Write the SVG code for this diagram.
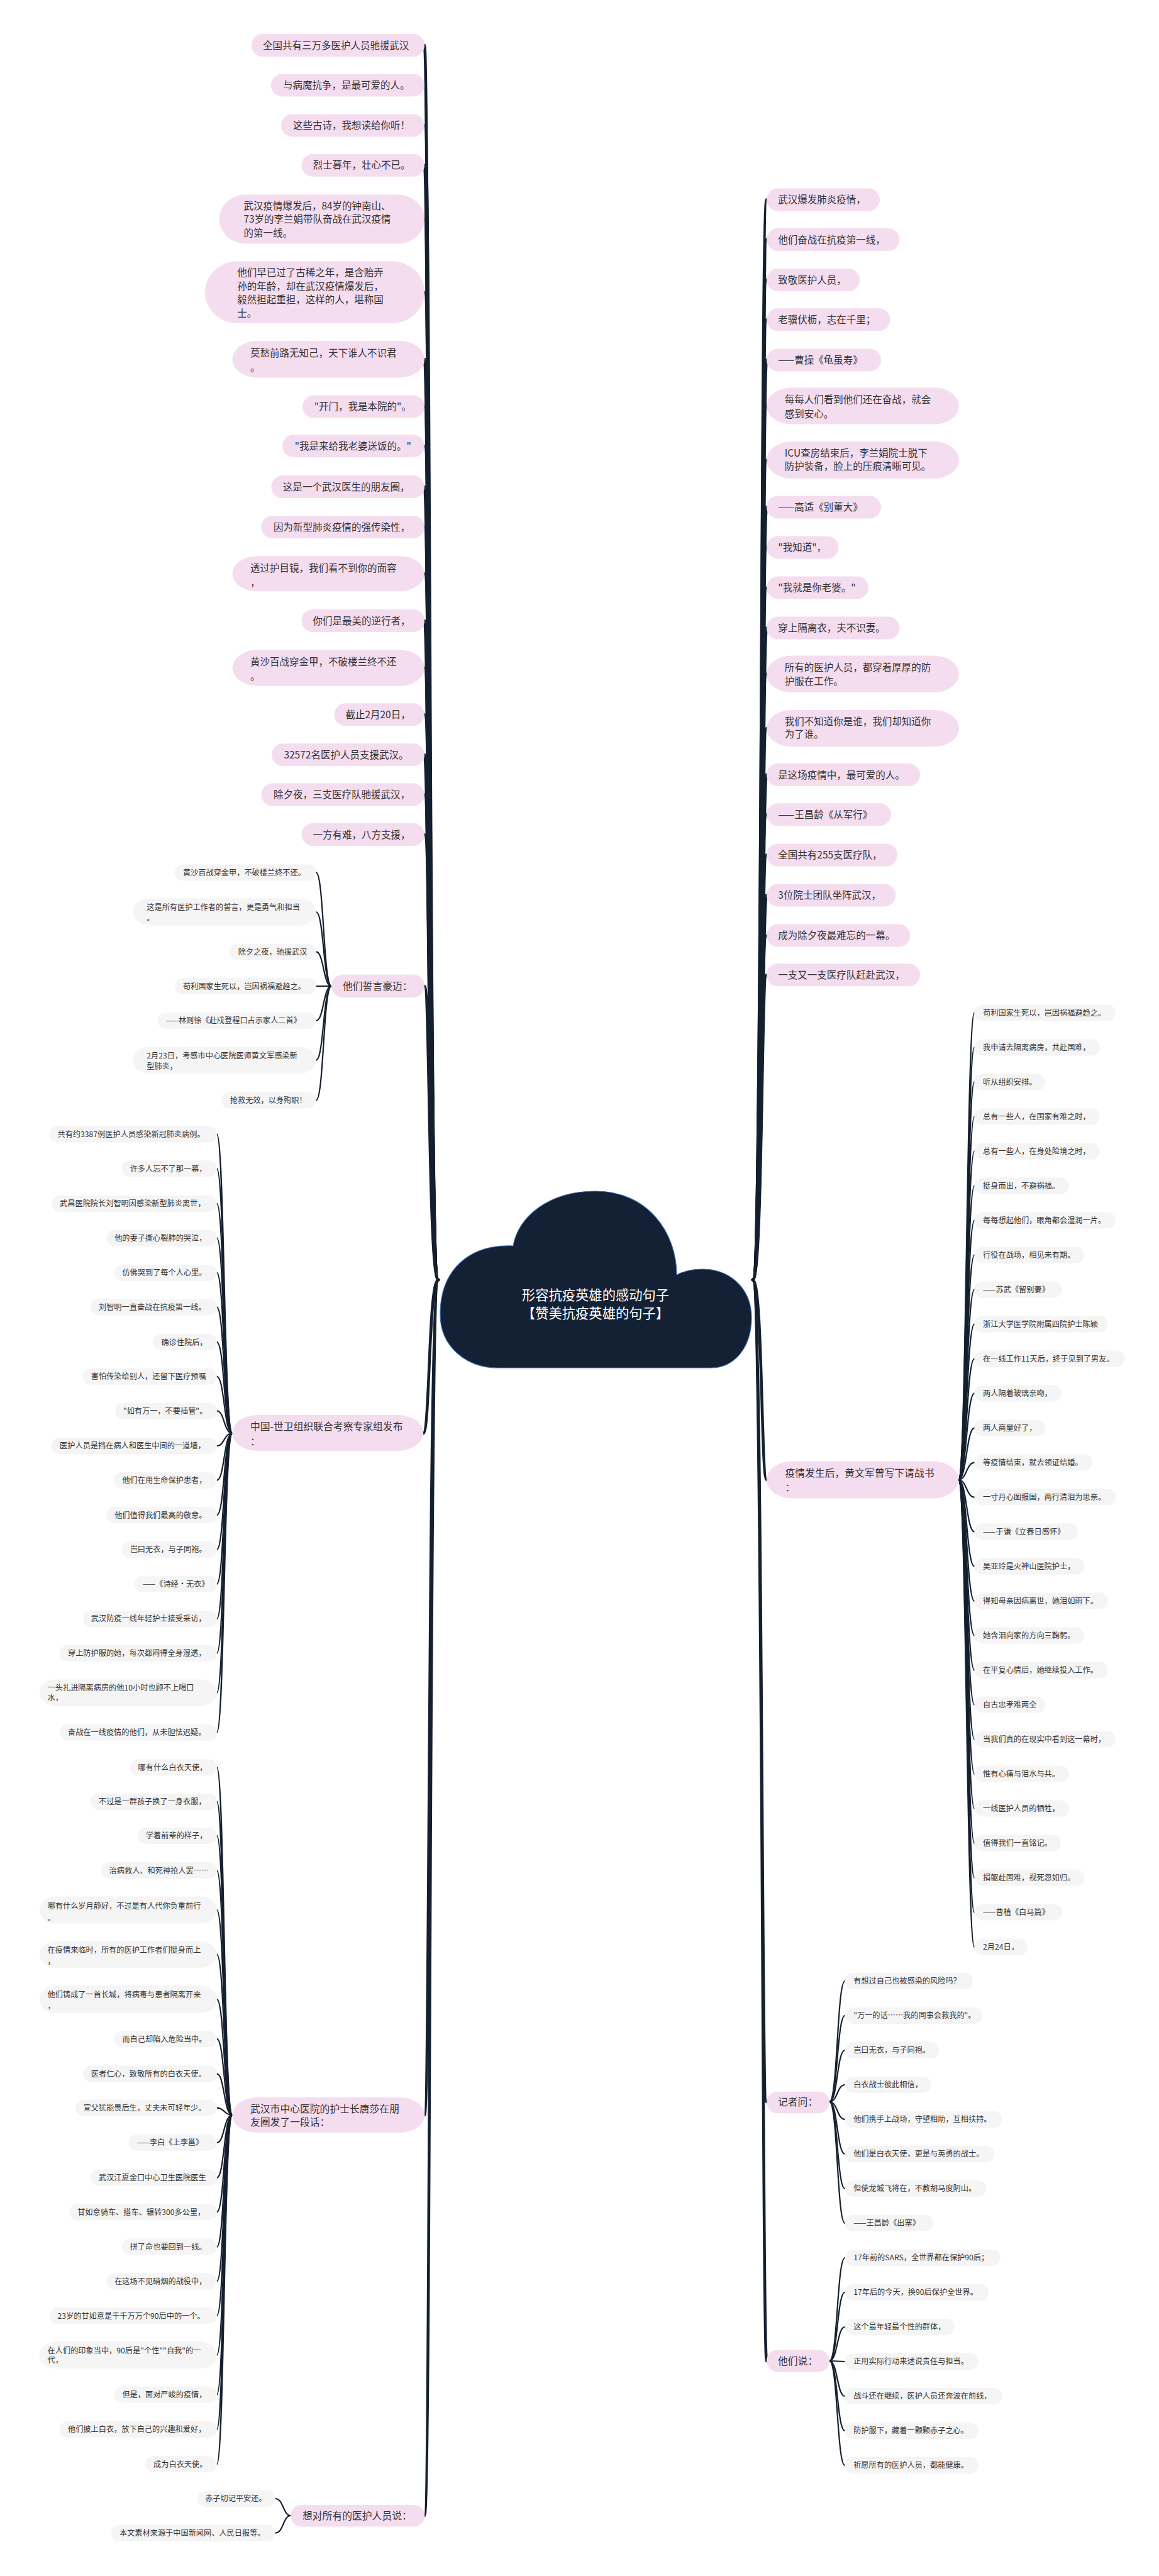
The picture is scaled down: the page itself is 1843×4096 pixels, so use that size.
<svg xmlns="http://www.w3.org/2000/svg" width="1843" height="4096" viewBox="0 0 1843 4096">
<style>
.pk{fill:#f5ddf0}
.gy{fill:#f5f5f5}
.t{font-family:"Noto Sans CJK SC","Noto Sans",sans-serif;fill:#333333}
.t1{font-size:15.5px}
.ts{font-size:15.8px}
.t2{font-size:12.2px}
.rt{font-family:"Noto Sans CJK SC","Noto Sans",sans-serif;font-size:21.3px;fill:#ffffff;text-anchor:middle}
.m{fill:none;stroke:#15202f;stroke-width:4.6;stroke-linecap:round}
.s{fill:none;stroke:#15202f;stroke-width:2.2;stroke-linecap:round}
</style>
<rect width="1843" height="4096" fill="#ffffff"/>
<g id="connectors">
<path class="m" d="M697 2035C681 2035 682 72 675 72"/>
<path class="m" d="M697 2035C681 2035 684 135.4 675 135.4"/>
<path class="m" d="M697 2035C681 2035 686 199.4 675 199.4"/>
<path class="m" d="M697 2035C681 2035 682 262.8 675 262.8"/>
<path class="m" d="M697 2035C681 2035 684 348.5 675 348.5"/>
<path class="m" d="M697 2035C681 2035 686 464.7 675 464.7"/>
<path class="m" d="M697 2035C681 2035 682 571.3 675 571.3"/>
<path class="m" d="M697 2035C681 2035 684 646.6 675 646.6"/>
<path class="m" d="M697 2035C681 2035 686 709.2 675 709.2"/>
<path class="m" d="M697 2035C681 2035 682 774 675 774"/>
<path class="m" d="M697 2035C681 2035 684 838 675 838"/>
<path class="m" d="M697 2035C681 2035 686 912.2 675 912.2"/>
<path class="m" d="M697 2035C681 2035 682 987.1 675 987.1"/>
<path class="m" d="M697 2035C681 2035 684 1062 675 1062"/>
<path class="m" d="M697 2035C681 2035 686 1136.2 675 1136.2"/>
<path class="m" d="M697 2035C681 2035 682 1200.2 675 1200.2"/>
<path class="m" d="M697 2035C681 2035 684 1263.6 675 1263.6"/>
<path class="m" d="M697 2035C681 2035 686 1327 675 1327"/>
<path class="m" d="M697 2035C681 2035 684 1568 675 1568"/>
<path class="m" d="M697 2035C681 2035 684 2279 673 2279"/>
<path class="m" d="M697 2035C681 2035 684 3363 675 3363"/>
<path class="m" d="M697 2035C681 2035 686 4000 675 4000"/>
<path class="m" d="M1197 2035C1213 2035 1209 317.5 1219 317.5"/>
<path class="m" d="M1197 2035C1213 2035 1211 380.9 1219 380.9"/>
<path class="m" d="M1197 2035C1213 2035 1208 445 1219 445"/>
<path class="m" d="M1197 2035C1213 2035 1210 508.3 1219 508.3"/>
<path class="m" d="M1197 2035C1213 2035 1212 572.4 1219 572.4"/>
<path class="m" d="M1197 2035C1213 2035 1208 645.5 1219 645.5"/>
<path class="m" d="M1197 2035C1213 2035 1210 731.5 1219 731.5"/>
<path class="m" d="M1197 2035C1213 2035 1212 806.4 1219 806.4"/>
<path class="m" d="M1197 2035C1213 2035 1208 870.5 1219 870.5"/>
<path class="m" d="M1197 2035C1213 2035 1210 934.6 1219 934.6"/>
<path class="m" d="M1197 2035C1213 2035 1212 998.6 1219 998.6"/>
<path class="m" d="M1197 2035C1213 2035 1208 1071.8 1219 1071.8"/>
<path class="m" d="M1197 2035C1213 2035 1210 1158.2 1219 1158.2"/>
<path class="m" d="M1197 2035C1213 2035 1212 1231.9 1219 1231.9"/>
<path class="m" d="M1197 2035C1213 2035 1208 1295.3 1219 1295.3"/>
<path class="m" d="M1197 2035C1213 2035 1210 1359.4 1219 1359.4"/>
<path class="m" d="M1197 2035C1213 2035 1212 1423.4 1219 1423.4"/>
<path class="m" d="M1197 2035C1213 2035 1208 1487.5 1219 1487.5"/>
<path class="m" d="M1197 2035C1213 2035 1210 1550.2 1219 1550.2"/>
<path class="m" d="M1197 2035C1213 2035 1210 2353 1219 2353"/>
<path class="m" d="M1197 2035C1213 2035 1210 3342 1219 3342"/>
<path class="m" d="M1197 2035C1213 2035 1212 3754 1219 3754"/>
<path class="s" d="M527 1568C514 1568 515 1387.4 502.6 1387.4"/>
<path class="s" d="M527 1568C514 1568 515 1450 502.6 1450"/>
<path class="s" d="M527 1568C514 1568 515 1513.4 502.6 1513.4"/>
<path class="s" d="M527 1568C514 1568 515 1568.2 502.6 1568.2"/>
<path class="s" d="M527 1568C514 1568 515 1622.9 502.6 1622.9"/>
<path class="s" d="M527 1568C514 1568 515 1685.8 502.6 1685.8"/>
<path class="s" d="M527 1568C514 1568 515 1749.6 502.6 1749.6"/>
<path class="s" d="M369.4 2279C356 2279 357 1803.6 344.9 1803.6"/>
<path class="s" d="M369.4 2279C356 2279 357 1858.3 344.9 1858.3"/>
<path class="s" d="M369.4 2279C356 2279 357 1913.8 344.9 1913.8"/>
<path class="s" d="M369.4 2279C356 2279 357 1968.5 344.9 1968.5"/>
<path class="s" d="M369.4 2279C356 2279 357 2023.9 344.9 2023.9"/>
<path class="s" d="M369.4 2279C356 2279 357 2078.6 344.9 2078.6"/>
<path class="s" d="M369.4 2279C356 2279 357 2134.1 344.9 2134.1"/>
<path class="s" d="M369.4 2279C356 2279 357 2188.8 344.9 2188.8"/>
<path class="s" d="M369.4 2279C356 2279 357 2243.5 344.9 2243.5"/>
<path class="s" d="M369.4 2279C356 2279 357 2299 344.9 2299"/>
<path class="s" d="M369.4 2279C356 2279 357 2353.7 344.9 2353.7"/>
<path class="s" d="M369.4 2279C356 2279 357 2409.1 344.9 2409.1"/>
<path class="s" d="M369.4 2279C356 2279 357 2463.8 344.9 2463.8"/>
<path class="s" d="M369.4 2279C356 2279 357 2518.6 344.9 2518.6"/>
<path class="s" d="M369.4 2279C356 2279 357 2574 344.9 2574"/>
<path class="s" d="M369.4 2279C356 2279 357 2628.7 344.9 2628.7"/>
<path class="s" d="M369.4 2279C356 2279 357 2691.4 344.9 2691.4"/>
<path class="s" d="M369.4 2279C356 2279 357 2754.7 344.9 2754.7"/>
<path class="s" d="M369.4 3363C356 3363 357 2810.2 344.9 2810.2"/>
<path class="s" d="M369.4 3363C356 3363 357 2864.9 344.9 2864.9"/>
<path class="s" d="M369.4 3363C356 3363 357 2918.9 344.9 2918.9"/>
<path class="s" d="M369.4 3363C356 3363 357 2974.3 344.9 2974.3"/>
<path class="s" d="M369.4 3363C356 3363 357 3037 344.9 3037"/>
<path class="s" d="M369.4 3363C356 3363 357 3107.8 344.9 3107.8"/>
<path class="s" d="M369.4 3363C356 3363 357 3179.2 344.9 3179.2"/>
<path class="s" d="M369.4 3363C356 3363 357 3242.2 344.9 3242.2"/>
<path class="s" d="M369.4 3363C356 3363 357 3297.6 344.9 3297.6"/>
<path class="s" d="M369.4 3363C356 3363 357 3351.6 344.9 3351.6"/>
<path class="s" d="M369.4 3363C356 3363 357 3407 344.9 3407"/>
<path class="s" d="M369.4 3363C356 3363 357 3462.5 344.9 3462.5"/>
<path class="s" d="M369.4 3363C356 3363 357 3517.2 344.9 3517.2"/>
<path class="s" d="M369.4 3363C356 3363 357 3572.6 344.9 3572.6"/>
<path class="s" d="M369.4 3363C356 3363 357 3627.4 344.9 3627.4"/>
<path class="s" d="M369.4 3363C356 3363 357 3682.1 344.9 3682.1"/>
<path class="s" d="M369.4 3363C356 3363 357 3744.7 344.9 3744.7"/>
<path class="s" d="M369.4 3363C356 3363 357 3807.4 344.9 3807.4"/>
<path class="s" d="M369.4 3363C356 3363 357 3862.8 344.9 3862.8"/>
<path class="s" d="M369.4 3363C356 3363 357 3918.2 344.9 3918.2"/>
<path class="s" d="M462.2 4000C450 4000 451 3973 437.8 3973"/>
<path class="s" d="M462.2 4000C450 4000 451 4027.7 437.8 4027.7"/>
<path class="s" d="M1524.2 2353C1537 2353 1537 1610.6 1549.4 1610.6"/>
<path class="s" d="M1524.2 2353C1537 2353 1537 1665.6 1549.4 1665.6"/>
<path class="s" d="M1524.2 2353C1537 2353 1537 1720.6 1549.4 1720.6"/>
<path class="s" d="M1524.2 2353C1537 2353 1537 1775.6 1549.4 1775.6"/>
<path class="s" d="M1524.2 2353C1537 2353 1537 1830.6 1549.4 1830.6"/>
<path class="s" d="M1524.2 2353C1537 2353 1537 1885.6 1549.4 1885.6"/>
<path class="s" d="M1524.2 2353C1537 2353 1537 1940.6 1549.4 1940.6"/>
<path class="s" d="M1524.2 2353C1537 2353 1537 1995.6 1549.4 1995.6"/>
<path class="s" d="M1524.2 2353C1537 2353 1537 2050.6 1549.4 2050.6"/>
<path class="s" d="M1524.2 2353C1537 2353 1537 2105.6 1549.4 2105.6"/>
<path class="s" d="M1524.2 2353C1537 2353 1537 2160.6 1549.4 2160.6"/>
<path class="s" d="M1524.2 2353C1537 2353 1537 2215.6 1549.4 2215.6"/>
<path class="s" d="M1524.2 2353C1537 2353 1537 2270.6 1549.4 2270.6"/>
<path class="s" d="M1524.2 2353C1537 2353 1537 2325.6 1549.4 2325.6"/>
<path class="s" d="M1524.2 2353C1537 2353 1537 2380.6 1549.4 2380.6"/>
<path class="s" d="M1524.2 2353C1537 2353 1537 2435.6 1549.4 2435.6"/>
<path class="s" d="M1524.2 2353C1537 2353 1537 2490.6 1549.4 2490.6"/>
<path class="s" d="M1524.2 2353C1537 2353 1537 2545.6 1549.4 2545.6"/>
<path class="s" d="M1524.2 2353C1537 2353 1537 2600.6 1549.4 2600.6"/>
<path class="s" d="M1524.2 2353C1537 2353 1537 2655.6 1549.4 2655.6"/>
<path class="s" d="M1524.2 2353C1537 2353 1537 2710.6 1549.4 2710.6"/>
<path class="s" d="M1524.2 2353C1537 2353 1537 2765.6 1549.4 2765.6"/>
<path class="s" d="M1524.2 2353C1537 2353 1537 2820.6 1549.4 2820.6"/>
<path class="s" d="M1524.2 2353C1537 2353 1537 2875.6 1549.4 2875.6"/>
<path class="s" d="M1524.2 2353C1537 2353 1537 2930.6 1549.4 2930.6"/>
<path class="s" d="M1524.2 2353C1537 2353 1537 2985.6 1549.4 2985.6"/>
<path class="s" d="M1524.2 2353C1537 2353 1537 3040.6 1549.4 3040.6"/>
<path class="s" d="M1524.2 2353C1537 2353 1537 3095.6 1549.4 3095.6"/>
<path class="s" d="M1319 3342C1332 3342 1331 3150 1343.5 3150"/>
<path class="s" d="M1319 3342C1332 3342 1331 3205 1343.5 3205"/>
<path class="s" d="M1319 3342C1332 3342 1331 3260 1343.5 3260"/>
<path class="s" d="M1319 3342C1332 3342 1331 3315 1343.5 3315"/>
<path class="s" d="M1319 3342C1332 3342 1331 3370 1343.5 3370"/>
<path class="s" d="M1319 3342C1332 3342 1331 3425 1343.5 3425"/>
<path class="s" d="M1319 3342C1332 3342 1331 3480 1343.5 3480"/>
<path class="s" d="M1319 3342C1332 3342 1331 3535 1343.5 3535"/>
<path class="s" d="M1319 3754C1332 3754 1331 3590 1343.5 3590"/>
<path class="s" d="M1319 3754C1332 3754 1331 3645 1343.5 3645"/>
<path class="s" d="M1319 3754C1332 3754 1331 3700 1343.5 3700"/>
<path class="s" d="M1319 3754C1332 3754 1331 3755 1343.5 3755"/>
<path class="s" d="M1319 3754C1332 3754 1331 3810 1343.5 3810"/>
<path class="s" d="M1319 3754C1332 3754 1331 3865 1343.5 3865"/>
<path class="s" d="M1319 3754C1332 3754 1331 3920 1343.5 3920"/>
</g>
<g id="root">
<path d="M792 2175C740 2175 700 2140 700 2090C700 2020 745 1978 816 1981C824 1935 872 1894 947 1894C1030 1894 1076 1960 1076 2027C1090 2020 1103 2018 1117 2018C1162 2018 1195 2050 1195 2095C1195 2140 1170 2175 1130 2175Z" fill="#142033" stroke="#3b6db3" stroke-width="1.2"/>
<text class="rt" x="947" y="2066.9">形容抗疫英雄的感动句子</text>
<text class="rt" x="947" y="2095.7">【赞美抗疫英雄的句子】</text>
</g>
<g id="L1"><rect class="pk" x="399.6" y="54" width="275.4" height="36" rx="18"/><text class="t t1" x="418" y="77.6">全国共有三万多医护人员驰援武汉</text></g>
<g id="L2"><rect class="pk" x="431" y="117.4" width="244" height="36" rx="18"/><text class="t t1" x="450" y="141">与病魔抗争，是最可爱的人。</text></g>
<g id="L3"><rect class="pk" x="447" y="181.4" width="228" height="36" rx="18"/><text class="t t1" x="466" y="205">这些古诗，我想读给你听！</text></g>
<g id="L4"><rect class="pk" x="479.5" y="244.8" width="195.5" height="36" rx="18"/><text class="t t1" x="497.5" y="268.4">烈士暮年，壮心不已。</text></g>
<g id="L5"><rect class="pk" x="348.5" y="309.6" width="326.5" height="77.8" rx="42" ry="38.9"/><text class="t t1" x="387.4" y="332.5">武汉疫情爆发后，84岁的钟南山、</text><text class="t t1" x="387.4" y="354.1">73岁的李兰娟带队奋战在武汉疫情</text><text class="t t1" x="387.4" y="375.7">的第一线。</text></g>
<g id="L6"><rect class="pk" x="326" y="415.4" width="349" height="98.6" rx="52" ry="49.3"/><text class="t t1" x="377.3" y="439">他们早已过了古稀之年，是含贻弄</text><text class="t t1" x="377.3" y="460.6">孙的年龄，却在武汉疫情爆发后，</text><text class="t t1" x="377.3" y="482.2">毅然担起重担，这样的人，堪称国</text><text class="t t1" x="377.3" y="503.8">士。</text></g>
<g id="L7"><rect class="pk" x="369.4" y="542" width="305.6" height="58.5" rx="40" ry="29.25"/><text class="t t1" x="398" y="567.2">莫愁前路无知己，天下谁人不识君</text><text class="t t1" x="398" y="590">。</text></g>
<g id="L8"><rect class="pk" x="481" y="628.6" width="194" height="36" rx="18"/><text class="t t1" x="499.7" y="652.2">"开门，我是本院的"。</text></g>
<g id="L9"><rect class="pk" x="449" y="691.2" width="226" height="36" rx="18"/><text class="t t1" x="468.7" y="714.8">"我是来给我老婆送饭的。"</text></g>
<g id="L10"><rect class="pk" x="431.3" y="756" width="243.7" height="36" rx="18"/><text class="t t1" x="450" y="779.6">这是一个武汉医生的朋友圈，</text></g>
<g id="L11"><rect class="pk" x="415.4" y="820" width="259.6" height="36" rx="18"/><text class="t t1" x="434.9" y="843.6">因为新型肺炎疫情的强传染性，</text></g>
<g id="L12"><rect class="pk" x="369.4" y="884.2" width="305.6" height="56.1" rx="40" ry="28"/><text class="t t1" x="398" y="908.5">透过护目镜，我们看不到你的面容</text><text class="t t1" x="398" y="932.2">，</text></g>
<g id="L13"><rect class="pk" x="479.5" y="969.1" width="195.5" height="36" rx="18"/><text class="t t1" x="497.5" y="992.7">你们是最美的逆行者，</text></g>
<g id="L14"><rect class="pk" x="369.4" y="1033.2" width="305.6" height="57.6" rx="40" ry="28.8"/><text class="t t1" x="398" y="1057.5">黄沙百战穿金甲，不破楼兰终不还</text><text class="t t1" x="398" y="1081.3">。</text></g>
<g id="L15"><rect class="pk" x="531.4" y="1118.2" width="143.6" height="36" rx="18"/><text class="t t1" x="549.4" y="1141.8">截止2月20日，</text></g>
<g id="L16"><rect class="pk" x="432" y="1182.2" width="243" height="36" rx="18"/><text class="t t1" x="451.4" y="1205.8">32572名医护人员支援武汉。</text></g>
<g id="L17"><rect class="pk" x="415.4" y="1245.6" width="259.6" height="36" rx="18"/><text class="t t1" x="434.9" y="1269.2">除夕夜，三支医疗队驰援武汉，</text></g>
<g id="L18"><rect class="pk" x="479.5" y="1309" width="195.5" height="36" rx="18"/><text class="t t1" x="497.5" y="1332.6">一方有难，八方支援，</text></g>
<g id="S1"><rect class="pk" x="527" y="1549.4" width="148" height="36.8" rx="18.4"/><text class="t ts" x="545" y="1573.7">他们誓言豪迈：</text></g>
<g id="S1c1"><rect class="gy" x="278" y="1374.4" width="224.6" height="26" rx="13"/><text class="t t2" x="290.9" y="1391.8">黄沙百战穿金甲，不破楼兰终不还。</text></g>
<g id="S1c2"><rect class="gy" x="211.7" y="1428.5" width="290.9" height="43.2" rx="26" ry="21.6"/><text class="t t2" x="233.3" y="1447.3">这是所有医护工作者的誓言，更是勇气和担当</text><text class="t t2" x="233.3" y="1463.8">。</text></g>
<g id="S1c3"><rect class="gy" x="364.3" y="1500.4" width="138.3" height="26" rx="13"/><text class="t t2" x="378.7" y="1517.8">除夕之夜，驰援武汉</text></g>
<g id="S1c4"><rect class="gy" x="278" y="1555.2" width="224.6" height="26" rx="13"/><text class="t t2" x="290.9" y="1572.6">苟利国家生死以，岂因祸福避趋之。</text></g>
<g id="S1c5"><rect class="gy" x="250.6" y="1609.9" width="252" height="26" rx="13"/><text class="t t2" x="263.5" y="1627.3">——林则徐《赴戍登程口占示家人二首》</text></g>
<g id="S1c6"><rect class="gy" x="211.7" y="1664.6" width="290.9" height="42.5" rx="26" ry="21.2"/><text class="t t2" x="233.3" y="1683.4">2月23日，考感市中心医院医师黄文军感染新</text><text class="t t2" x="233.3" y="1700">型肺炎，</text></g>
<g id="S1c7"><rect class="gy" x="352" y="1736.6" width="150.6" height="26" rx="13"/><text class="t t2" x="365.8" y="1754">抢救无效，以身殉职！</text></g>
<g id="S2"><rect class="pk" x="369.4" y="2250" width="303.8" height="56.9" rx="40" ry="28.4"/><text class="t ts" x="398" y="2274.4">中国-世卫组织联合考察专家组发布</text><text class="t ts" x="398" y="2298.2">：</text></g>
<g id="S2c1"><rect class="gy" x="78.5" y="1790.6" width="266.4" height="26" rx="13"/><text class="t t2" x="91.5" y="1808">共有约3387例医护人员感染新冠肺炎病例。</text></g>
<g id="S2c2"><rect class="gy" x="193.7" y="1845.3" width="151.2" height="26" rx="13"/><text class="t t2" x="206.7" y="1862.7">许多人忘不了那一幕，</text></g>
<g id="S2c3"><rect class="gy" x="82.1" y="1900.8" width="262.8" height="26" rx="13"/><text class="t t2" x="95.1" y="1918.2">武昌医院院长刘智明因感染新型肺炎离世，</text></g>
<g id="S2c4"><rect class="gy" x="169.2" y="1955.5" width="175.7" height="26" rx="13"/><text class="t t2" x="182.2" y="1972.9">他的妻子撕心裂肺的哭泣，</text></g>
<g id="S2c5"><rect class="gy" x="181.4" y="2010.9" width="163.5" height="26" rx="13"/><text class="t t2" x="194.4" y="2028.3">仿佛哭到了每个人心里。</text></g>
<g id="S2c6"><rect class="gy" x="144" y="2065.6" width="200.9" height="26" rx="13"/><text class="t t2" x="157" y="2083">刘智明一直奋战在抗疫第一线。</text></g>
<g id="S2c7"><rect class="gy" x="243.4" y="2121.1" width="101.5" height="26" rx="13"/><text class="t t2" x="256.4" y="2138.5">确诊住院后，</text></g>
<g id="S2c8"><rect class="gy" x="131.8" y="2175.8" width="213.1" height="26" rx="13"/><text class="t t2" x="144.8" y="2193.2">害怕传染给别人，还留下医疗预嘱</text></g>
<g id="S2c9"><rect class="gy" x="182.9" y="2230.5" width="162" height="26" rx="13"/><text class="t t2" x="195.9" y="2247.9">"如有万一，不要插管"。</text></g>
<g id="S2c10"><rect class="gy" x="82.1" y="2286" width="262.8" height="26" rx="13"/><text class="t t2" x="95.1" y="2303.4">医护人员是挡在病人和医生中间的一道墙，</text></g>
<g id="S2c11"><rect class="gy" x="181.4" y="2340.7" width="163.5" height="26" rx="13"/><text class="t t2" x="194.4" y="2358.1">他们在用生命保护患者，</text></g>
<g id="S2c12"><rect class="gy" x="169.2" y="2396.1" width="175.7" height="26" rx="13"/><text class="t t2" x="182.2" y="2413.5">他们值得我们最高的敬意。</text></g>
<g id="S2c13"><rect class="gy" x="193.7" y="2450.8" width="151.2" height="26" rx="13"/><text class="t t2" x="206.7" y="2468.2">岂曰无衣，与子同袍。</text></g>
<g id="S2c14"><rect class="gy" x="213.8" y="2505.6" width="131.1" height="26" rx="13"/><text class="t t2" x="226.8" y="2523">——《诗经·无衣》</text></g>
<g id="S2c15"><rect class="gy" x="131.8" y="2561" width="213.1" height="26" rx="13"/><text class="t t2" x="144.8" y="2578.4">武汉防疫一线年轻护士接受采访，</text></g>
<g id="S2c16"><rect class="gy" x="95" y="2615.7" width="249.9" height="26" rx="13"/><text class="t t2" x="108" y="2633.1">穿上防护服的她，每次都闷得全身湿透，</text></g>
<g id="S2c17"><rect class="gy" x="62.6" y="2670.5" width="282.3" height="41.7" rx="26" ry="20.85"/><text class="t t2" x="75.6" y="2687.8">一头扎进隔离病房的他10小时也顾不上喝口</text><text class="t t2" x="75.6" y="2704.4">水，</text></g>
<g id="S2c18"><rect class="gy" x="95" y="2741.7" width="249.9" height="26" rx="13"/><text class="t t2" x="108" y="2759.1">奋战在一线疫情的他们，从未胆怯迟疑。</text></g>
<g id="S3"><rect class="pk" x="369.4" y="3335" width="306" height="56.2" rx="40" ry="28.1"/><text class="t ts" x="398" y="3358.7">武汉市中心医院的护士长唐莎在朋</text><text class="t ts" x="398" y="3380.3">友圈发了一段话：</text></g>
<g id="S3c1"><rect class="gy" x="206.6" y="2797.2" width="138.3" height="26" rx="13"/><text class="t t2" x="219.6" y="2814.6">哪有什么白衣天使，</text></g>
<g id="S3c2"><rect class="gy" x="144" y="2851.9" width="200.9" height="26" rx="13"/><text class="t t2" x="157" y="2869.3">不过是一群孩子换了一身衣服，</text></g>
<g id="S3c3"><rect class="gy" x="218.9" y="2905.9" width="126" height="26" rx="13"/><text class="t t2" x="231.9" y="2923.3">学着前辈的样子，</text></g>
<g id="S3c4"><rect class="gy" x="160.6" y="2961.3" width="184.3" height="26" rx="13"/><text class="t t2" x="173.6" y="2978.7">治病救人、和死神抢人罢……</text></g>
<g id="S3c5"><rect class="gy" x="62.6" y="3015.4" width="282.3" height="43.2" rx="26" ry="21.6"/><text class="t t2" x="75.6" y="3034.9">哪有什么岁月静好，不过是有人代你负重前行</text><text class="t t2" x="75.6" y="3053.6">。</text></g>
<g id="S3c6"><rect class="gy" x="62.6" y="3086.6" width="282.3" height="42.5" rx="26" ry="21.2"/><text class="t t2" x="75.6" y="3105.4">在疫情来临时，所有的医护工作者们挺身而上</text><text class="t t2" x="75.6" y="3123.4">，</text></g>
<g id="S3c7"><rect class="gy" x="62.6" y="3157.2" width="282.3" height="43.9" rx="26" ry="21.9"/><text class="t t2" x="75.6" y="3176">他们铸成了一首长城，将病毒与患者隔离开来</text><text class="t t2" x="75.6" y="3194">，</text></g>
<g id="S3c8"><rect class="gy" x="181.4" y="3229.2" width="163.5" height="26" rx="13"/><text class="t t2" x="194.4" y="3246.6">而自己却陷入危险当中。</text></g>
<g id="S3c9"><rect class="gy" x="131.8" y="3284.6" width="213.1" height="26" rx="13"/><text class="t t2" x="144.8" y="3302">医者仁心，致敬所有的白衣天使。</text></g>
<g id="S3c10"><rect class="gy" x="119.5" y="3338.6" width="225.4" height="26" rx="13"/><text class="t t2" x="132.5" y="3356">宣父犹能畏后生，丈夫未可轻年少。</text></g>
<g id="S3c11"><rect class="gy" x="204.5" y="3394" width="140.4" height="26" rx="13"/><text class="t t2" x="217.5" y="3411.4">——李白《上李邕》</text></g>
<g id="S3c12"><rect class="gy" x="144" y="3449.5" width="200.9" height="26" rx="13"/><text class="t t2" x="157" y="3466.9">武汉江夏金口中心卫生医院医生</text></g>
<g id="S3c13"><rect class="gy" x="110.2" y="3504.2" width="234.7" height="26" rx="13"/><text class="t t2" x="123.2" y="3521.6">甘如意骑车、搭车、辗转300多公里，</text></g>
<g id="S3c14"><rect class="gy" x="193.7" y="3559.6" width="151.2" height="26" rx="13"/><text class="t t2" x="206.7" y="3577">拼了命也要回到一线。</text></g>
<g id="S3c15"><rect class="gy" x="169.2" y="3614.4" width="175.7" height="26" rx="13"/><text class="t t2" x="182.2" y="3631.8">在这场不见硝烟的战役中，</text></g>
<g id="S3c16"><rect class="gy" x="78.5" y="3669.1" width="266.4" height="26" rx="13"/><text class="t t2" x="91.5" y="3686.5">23岁的甘如意是千千万万个90后中的一个。</text></g>
<g id="S3c17"><rect class="gy" x="62.6" y="3723.1" width="282.3" height="43.2" rx="26" ry="21.6"/><text class="t t2" x="75.6" y="3741.9">在人们的印象当中，90后是"个性""自我"的一</text><text class="t t2" x="75.6" y="3757">代，</text></g>
<g id="S3c18"><rect class="gy" x="181.4" y="3794.4" width="163.5" height="26" rx="13"/><text class="t t2" x="194.4" y="3811.8">但是，面对严峻的疫情，</text></g>
<g id="S3c19"><rect class="gy" x="95" y="3849.8" width="249.9" height="26" rx="13"/><text class="t t2" x="108" y="3867.2">他们披上白衣，放下自己的兴趣和爱好，</text></g>
<g id="S3c20"><rect class="gy" x="231.1" y="3905.2" width="113.8" height="26" rx="13"/><text class="t t2" x="244.1" y="3922.6">成为白衣天使。</text></g>
<g id="S4"><rect class="pk" x="462.2" y="3983" width="213.2" height="34.6" rx="17.3"/><text class="t ts" x="481" y="4005.7">想对所有的医护人员说：</text></g>
<g id="S4c1"><rect class="gy" x="313.9" y="3960" width="123.9" height="26" rx="13"/><text class="t t2" x="326.2" y="3977.4">赤子切记平安还。</text></g>
<g id="S4c2"><rect class="gy" x="177.1" y="4014.7" width="260.7" height="26" rx="13"/><text class="t t2" x="190" y="4032.1">本文素材来源于中国新闻网、人民日报等。</text></g>
<g id="R1"><rect class="pk" x="1219" y="299.5" width="180" height="36" rx="18"/><text class="t t1" x="1237.3" y="323.1">武汉爆发肺炎疫情，</text></g>
<g id="R2"><rect class="pk" x="1219" y="362.9" width="211.6" height="36" rx="18"/><text class="t t1" x="1237.3" y="386.5">他们奋战在抗疫第一线，</text></g>
<g id="R3"><rect class="pk" x="1219" y="427" width="148.3" height="36" rx="18"/><text class="t t1" x="1237.3" y="450.6">致敬医护人员，</text></g>
<g id="R4"><rect class="pk" x="1219" y="490.3" width="196.5" height="36" rx="18"/><text class="t t1" x="1237.3" y="513.9">老骥伏枥，志在千里；</text></g>
<g id="R5"><rect class="pk" x="1219" y="554.4" width="182" height="36" rx="18"/><text class="t t1" x="1237.3" y="578">——曹操《龟虽寿》</text></g>
<g id="R6"><rect class="pk" x="1219" y="616.3" width="306" height="58.3" rx="40" ry="29.15"/><text class="t t1" x="1247.8" y="641.4">每每人们看到他们还在奋战，就会</text><text class="t t1" x="1247.8" y="663.7">感到安心。</text></g>
<g id="R7"><rect class="pk" x="1219" y="702" width="306" height="59" rx="40" ry="29.5"/><text class="t t1" x="1247.8" y="726.3">ICU查房结束后，李兰娟院士脱下</text><text class="t t1" x="1247.8" y="747.2">防护装备，脸上的压痕清晰可见。</text></g>
<g id="R8"><rect class="pk" x="1219" y="788.4" width="182" height="36" rx="18"/><text class="t t1" x="1237.3" y="812">——高适《别董大》</text></g>
<g id="R9"><rect class="pk" x="1219" y="852.5" width="114.4" height="36" rx="18"/><text class="t t1" x="1237.3" y="876.1">"我知道"，</text></g>
<g id="R10"><rect class="pk" x="1219" y="916.6" width="162" height="36" rx="18"/><text class="t t1" x="1237.3" y="940.2">"我就是你老婆。"</text></g>
<g id="R11"><rect class="pk" x="1219" y="980.6" width="211.6" height="36" rx="18"/><text class="t t1" x="1237.3" y="1004.2">穿上隔离衣，夫不识妻。</text></g>
<g id="R12"><rect class="pk" x="1219" y="1042.6" width="306" height="58.3" rx="40" ry="29.15"/><text class="t t1" x="1247.8" y="1066.9">所有的医护人员，都穿着厚厚的防</text><text class="t t1" x="1247.8" y="1088.5">护服在工作。</text></g>
<g id="R13"><rect class="pk" x="1219" y="1129" width="306" height="58.3" rx="40" ry="29.15"/><text class="t t1" x="1247.8" y="1152.6">我们不知道你是谁，我们却知道你</text><text class="t t1" x="1247.8" y="1173.4">为了谁。</text></g>
<g id="R14"><rect class="pk" x="1219" y="1213.9" width="244" height="36" rx="18"/><text class="t t1" x="1237.3" y="1237.5">是这场疫情中，最可爱的人。</text></g>
<g id="R15"><rect class="pk" x="1219" y="1277.3" width="198" height="36" rx="18"/><text class="t t1" x="1237.3" y="1300.9">——王昌龄《从军行》</text></g>
<g id="R16"><rect class="pk" x="1219" y="1341.4" width="208" height="36" rx="18"/><text class="t t1" x="1237.3" y="1365">全国共有255支医疗队，</text></g>
<g id="R17"><rect class="pk" x="1219" y="1405.4" width="205.2" height="36" rx="18"/><text class="t t1" x="1237.3" y="1429">3位院士团队坐阵武汉，</text></g>
<g id="R18"><rect class="pk" x="1219" y="1469.5" width="228.2" height="36" rx="18"/><text class="t t1" x="1237.3" y="1493.1">成为除夕夜最难忘的一幕。</text></g>
<g id="R19"><rect class="pk" x="1219" y="1532.2" width="244" height="36" rx="18"/><text class="t t1" x="1237.3" y="1555.8">一支又一支医疗队赶赴武汉，</text></g>
<g id="T1"><rect class="pk" x="1219" y="2323.4" width="305.2" height="59.1" rx="40" ry="29.55"/><text class="t ts" x="1248.5" y="2347.9">疫情发生后，黄文军曾写下请战书</text><text class="t ts" x="1248.5" y="2370.9">：</text></g>
<g id="T1c1"><rect class="gy" x="1549.4" y="1597.6" width="224.6" height="26" rx="13"/><text class="t t2" x="1563.1" y="1615">苟利国家生死以，岂因祸福避趋之。</text></g>
<g id="T1c2"><rect class="gy" x="1549.4" y="1652.6" width="199.6" height="26" rx="13"/><text class="t t2" x="1563.1" y="1670">我申请去隔离病房，共赴国难，</text></g>
<g id="T1c3"><rect class="gy" x="1549.4" y="1707.6" width="112.9" height="26" rx="13"/><text class="t t2" x="1563.1" y="1725">听从组织安排。</text></g>
<g id="T1c4"><rect class="gy" x="1549.4" y="1762.6" width="199.6" height="26" rx="13"/><text class="t t2" x="1563.1" y="1780">总有一些人，在国家有难之时，</text></g>
<g id="T1c5"><rect class="gy" x="1549.4" y="1817.6" width="199.6" height="26" rx="13"/><text class="t t2" x="1563.1" y="1835">总有一些人，在身处险境之时，</text></g>
<g id="T1c6"><rect class="gy" x="1549.4" y="1872.6" width="150.6" height="26" rx="13"/><text class="t t2" x="1563.1" y="1890">挺身而出，不避祸福。</text></g>
<g id="T1c7"><rect class="gy" x="1549.4" y="1927.6" width="224.6" height="26" rx="13"/><text class="t t2" x="1563.1" y="1945">每每想起他们，眼角都会湿润一片。</text></g>
<g id="T1c8"><rect class="gy" x="1549.4" y="1982.6" width="174.8" height="26" rx="13"/><text class="t t2" x="1563.1" y="2000">行役在战场，相见未有期。</text></g>
<g id="T1c9"><rect class="gy" x="1549.4" y="2037.6" width="139.2" height="26" rx="13"/><text class="t t2" x="1563.1" y="2055">——苏武《留别妻》</text></g>
<g id="T1c10"><rect class="gy" x="1549.4" y="2092.6" width="212.3" height="26" rx="13"/><text class="t t2" x="1563.1" y="2110">浙江大学医学院附属四院护士陈颖</text></g>
<g id="T1c11"><rect class="gy" x="1549.4" y="2147.6" width="239.1" height="26" rx="13"/><text class="t t2" x="1563.1" y="2165">在一线工作11天后，终于见到了男友。</text></g>
<g id="T1c12"><rect class="gy" x="1549.4" y="2202.6" width="138" height="26" rx="13"/><text class="t t2" x="1563.1" y="2220">两人隔着玻璃亲吻，</text></g>
<g id="T1c13"><rect class="gy" x="1549.4" y="2257.6" width="112.9" height="26" rx="13"/><text class="t t2" x="1563.1" y="2275">两人商量好了，</text></g>
<g id="T1c14"><rect class="gy" x="1549.4" y="2312.6" width="187.3" height="26" rx="13"/><text class="t t2" x="1563.1" y="2330">等疫情结束，就去领证结婚。</text></g>
<g id="T1c15"><rect class="gy" x="1549.4" y="2367.6" width="224.6" height="26" rx="13"/><text class="t t2" x="1563.1" y="2385">一寸丹心图报国，两行清泪为思亲。</text></g>
<g id="T1c16"><rect class="gy" x="1549.4" y="2422.6" width="164.2" height="26" rx="13"/><text class="t t2" x="1563.1" y="2440">——于谦《立春日感怀》</text></g>
<g id="T1c17"><rect class="gy" x="1549.4" y="2477.6" width="174.8" height="26" rx="13"/><text class="t t2" x="1563.1" y="2495">吴亚玲是火神山医院护士，</text></g>
<g id="T1c18"><rect class="gy" x="1549.4" y="2532.6" width="212.3" height="26" rx="13"/><text class="t t2" x="1563.1" y="2550">得知母亲因病离世，她泪如雨下。</text></g>
<g id="T1c19"><rect class="gy" x="1549.4" y="2587.6" width="174.8" height="26" rx="13"/><text class="t t2" x="1563.1" y="2605">她含泪向家的方向三鞠躬。</text></g>
<g id="T1c20"><rect class="gy" x="1549.4" y="2642.6" width="212.3" height="26" rx="13"/><text class="t t2" x="1563.1" y="2660">在平复心情后，她继续投入工作。</text></g>
<g id="T1c21"><rect class="gy" x="1549.4" y="2697.6" width="112.9" height="26" rx="13"/><text class="t t2" x="1563.1" y="2715">自古忠孝难两全</text></g>
<g id="T1c22"><rect class="gy" x="1549.4" y="2752.6" width="224.6" height="26" rx="13"/><text class="t t2" x="1563.1" y="2770">当我们真的在现实中看到这一幕时，</text></g>
<g id="T1c23"><rect class="gy" x="1549.4" y="2807.6" width="150.6" height="26" rx="13"/><text class="t t2" x="1563.1" y="2825">惟有心痛与泪水与共。</text></g>
<g id="T1c24"><rect class="gy" x="1549.4" y="2862.6" width="150.6" height="26" rx="13"/><text class="t t2" x="1563.1" y="2880">一线医护人员的牺牲，</text></g>
<g id="T1c25"><rect class="gy" x="1549.4" y="2917.6" width="138" height="26" rx="13"/><text class="t t2" x="1563.1" y="2935">值得我们一直铭记。</text></g>
<g id="T1c26"><rect class="gy" x="1549.4" y="2972.6" width="174.8" height="26" rx="13"/><text class="t t2" x="1563.1" y="2990">捐躯赴国难，视死忽如归。</text></g>
<g id="T1c27"><rect class="gy" x="1549.4" y="3027.6" width="139.2" height="26" rx="13"/><text class="t t2" x="1563.1" y="3045">——曹植《白马篇》</text></g>
<g id="T1c28"><rect class="gy" x="1549.4" y="3082.6" width="85" height="26" rx="13"/><text class="t t2" x="1563.1" y="3100">2月24日，</text></g>
<g id="T2"><rect class="pk" x="1219" y="3325.7" width="100" height="34.5" rx="17.25"/><text class="t ts" x="1237" y="3347.7">记者问：</text></g>
<g id="T2c1"><rect class="gy" x="1343.5" y="3137" width="204" height="26" rx="13"/><text class="t t2" x="1357.2" y="3154.4">有想过自己也被感染的风险吗？</text></g>
<g id="T2c2"><rect class="gy" x="1343.5" y="3192" width="218.4" height="26" rx="13"/><text class="t t2" x="1357.2" y="3209.4">"万一的话……我的同事会救我的"。</text></g>
<g id="T2c3"><rect class="gy" x="1343.5" y="3247" width="150" height="26" rx="13"/><text class="t t2" x="1357.2" y="3264.4">岂曰无衣，与子同袍。</text></g>
<g id="T2c4"><rect class="gy" x="1343.5" y="3302" width="137.1" height="26" rx="13"/><text class="t t2" x="1357.2" y="3319.4">白衣战士彼此相信，</text></g>
<g id="T2c5"><rect class="gy" x="1343.5" y="3357" width="250.1" height="26" rx="13"/><text class="t t2" x="1357.2" y="3374.4">他们携手上战场，守望相助，互相扶持。</text></g>
<g id="T2c6"><rect class="gy" x="1343.5" y="3412" width="237.5" height="26" rx="13"/><text class="t t2" x="1357.2" y="3429.4">他们是白衣天使，更是与英勇的战士。</text></g>
<g id="T2c7"><rect class="gy" x="1343.5" y="3467" width="224.9" height="26" rx="13"/><text class="t t2" x="1357.2" y="3484.4">但使龙城飞将在，不教胡马度阴山。</text></g>
<g id="T2c8"><rect class="gy" x="1343.5" y="3522" width="140.5" height="26" rx="13"/><text class="t t2" x="1357.2" y="3539.4">——王昌龄《出塞》</text></g>
<g id="T3"><rect class="pk" x="1219" y="3736.4" width="100" height="35" rx="17.5"/><text class="t ts" x="1237" y="3759.7">他们说：</text></g>
<g id="T3c1"><rect class="gy" x="1343.5" y="3577" width="247.5" height="26" rx="13"/><text class="t t2" x="1357.2" y="3594.4">17年前的SARS，全世界都在保护90后；</text></g>
<g id="T3c2"><rect class="gy" x="1343.5" y="3632" width="229" height="26" rx="13"/><text class="t t2" x="1357.2" y="3649.4">17年后的今天，换90后保护全世界。</text></g>
<g id="T3c3"><rect class="gy" x="1343.5" y="3687" width="174.5" height="26" rx="13"/><text class="t t2" x="1357.2" y="3704.4">这个最年轻最个性的群体，</text></g>
<g id="T3c4"><rect class="gy" x="1343.5" y="3742" width="212.3" height="26" rx="13"/><text class="t t2" x="1357.2" y="3759.4">正用实际行动来述说责任与担当。</text></g>
<g id="T3c5"><rect class="gy" x="1343.5" y="3797" width="249.9" height="26" rx="13"/><text class="t t2" x="1357.2" y="3814.4">战斗还在继续，医护人员还奔波在前线，</text></g>
<g id="T3c6"><rect class="gy" x="1343.5" y="3852" width="212.3" height="26" rx="13"/><text class="t t2" x="1357.2" y="3869.4">防护服下，藏着一颗颗赤子之心。</text></g>
<g id="T3c7"><rect class="gy" x="1343.5" y="3907" width="212.3" height="26" rx="13"/><text class="t t2" x="1357.2" y="3924.4">祈愿所有的医护人员，都能健康。</text></g>
</svg>
